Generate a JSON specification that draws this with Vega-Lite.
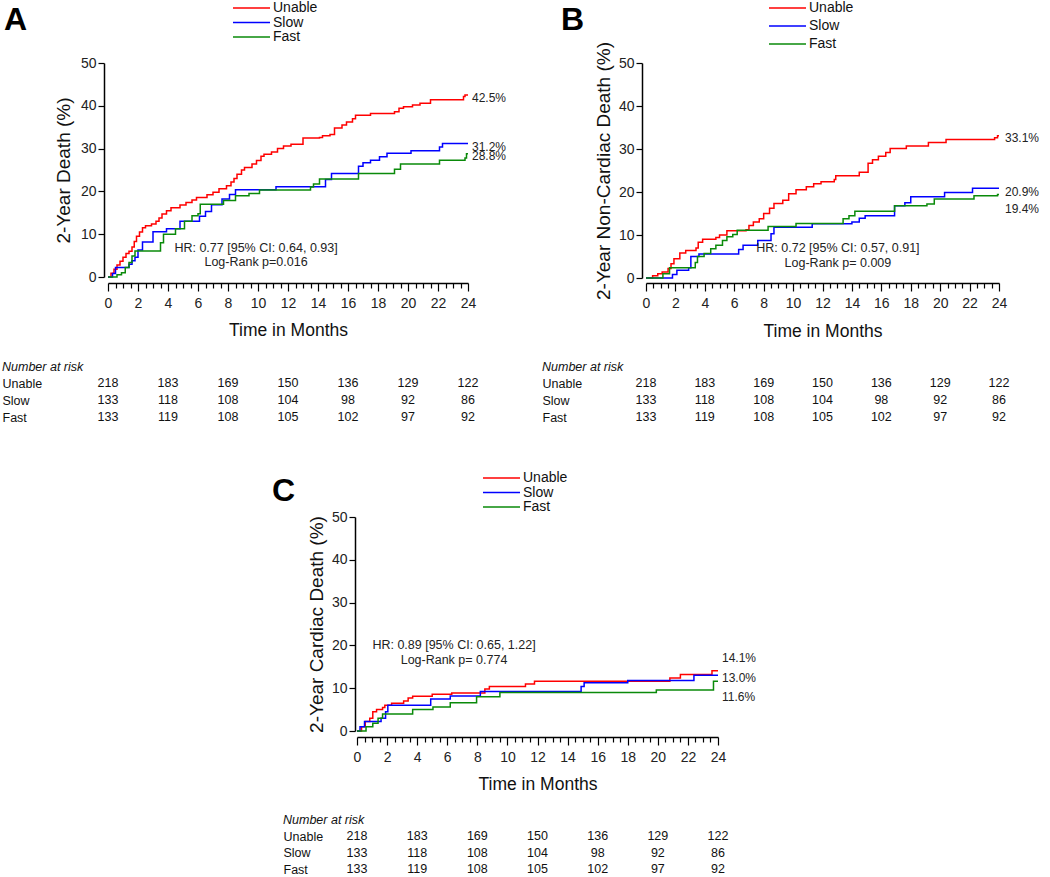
{
  "$schema": "https://vega.github.io/schema/vega-lite/v6.json",
  "padding": {"left": 2, "top": 1, "right": 0, "bottom": 0},
  "background": "white",
  "config": {
    "font": "Liberation Sans",
    "view": {"stroke": null},
    "axis": {"grid": false, "labelFont": "Liberation Sans", "titleFont": "Liberation Sans", "labelColor": "#222", "titleColor": "#111", "titleFontWeight": "normal", "domainColor": "#000", "tickColor": "#000"},
    "legend": {"labelFont": "Liberation Sans"},
    "title": {"font": "Liberation Sans"},
    "text": {"font": "Liberation Sans"}
  },
  "datasets": {
    "curves": [
      {"panel":"A","group":"Unable","month":0,"pct":0},{"panel":"A","group":"Unable","month":0.2,"pct":0.9},{"panel":"A","group":"Unable","month":0.4,"pct":1.8},{"panel":"A","group":"Unable","month":0.6,"pct":2.8},{"panel":"A","group":"Unable","month":0.8,"pct":3.7},{"panel":"A","group":"Unable","month":1.0,"pct":4.6},{"panel":"A","group":"Unable","month":1.2,"pct":5.5},{"panel":"A","group":"Unable","month":1.4,"pct":6.0},{"panel":"A","group":"Unable","month":1.6,"pct":7.0},{"panel":"A","group":"Unable","month":1.75,"pct":8.3},{"panel":"A","group":"Unable","month":1.9,"pct":9.5},{"panel":"A","group":"Unable","month":2.1,"pct":10.5},{"panel":"A","group":"Unable","month":2.3,"pct":11.5},{"panel":"A","group":"Unable","month":2.5,"pct":12.0},{"panel":"A","group":"Unable","month":2.9,"pct":12.4},{"panel":"A","group":"Unable","month":3.2,"pct":13.0},{"panel":"A","group":"Unable","month":3.4,"pct":13.8},{"panel":"A","group":"Unable","month":3.6,"pct":14.7},{"panel":"A","group":"Unable","month":3.9,"pct":15.5},{"panel":"A","group":"Unable","month":4.2,"pct":16.2},{"panel":"A","group":"Unable","month":4.8,"pct":16.8},{"panel":"A","group":"Unable","month":5.2,"pct":17.4},{"panel":"A","group":"Unable","month":5.6,"pct":18.0},{"panel":"A","group":"Unable","month":5.9,"pct":18.6},{"panel":"A","group":"Unable","month":6.6,"pct":19.2},{"panel":"A","group":"Unable","month":7.0,"pct":19.8},{"panel":"A","group":"Unable","month":7.4,"pct":20.6},{"panel":"A","group":"Unable","month":7.9,"pct":21.3},{"panel":"A","group":"Unable","month":8.2,"pct":22.2},{"panel":"A","group":"Unable","month":8.4,"pct":23.0},{"panel":"A","group":"Unable","month":8.6,"pct":24.0},{"panel":"A","group":"Unable","month":8.9,"pct":25.0},{"panel":"A","group":"Unable","month":9.1,"pct":25.6},{"panel":"A","group":"Unable","month":9.6,"pct":26.4},{"panel":"A","group":"Unable","month":9.9,"pct":27.2},{"panel":"A","group":"Unable","month":10.2,"pct":28.2},{"panel":"A","group":"Unable","month":10.4,"pct":28.7},{"panel":"A","group":"Unable","month":10.9,"pct":29.2},{"panel":"A","group":"Unable","month":11.3,"pct":30.0},{"panel":"A","group":"Unable","month":11.7,"pct":30.6},{"panel":"A","group":"Unable","month":12.2,"pct":31.0},{"panel":"A","group":"Unable","month":13.0,"pct":32.5},{"panel":"A","group":"Unable","month":14.1,"pct":32.6},{"panel":"A","group":"Unable","month":14.3,"pct":33.0},{"panel":"A","group":"Unable","month":14.8,"pct":33.3},{"panel":"A","group":"Unable","month":15.1,"pct":34.8},{"panel":"A","group":"Unable","month":15.6,"pct":35.5},{"panel":"A","group":"Unable","month":15.9,"pct":36.2},{"panel":"A","group":"Unable","month":16.3,"pct":37.0},{"panel":"A","group":"Unable","month":16.5,"pct":37.8},{"panel":"A","group":"Unable","month":17.5,"pct":38.2},{"panel":"A","group":"Unable","month":19.1,"pct":38.6},{"panel":"A","group":"Unable","month":19.4,"pct":39.4},{"panel":"A","group":"Unable","month":19.7,"pct":39.8},{"panel":"A","group":"Unable","month":20.3,"pct":40.2},{"panel":"A","group":"Unable","month":20.8,"pct":40.6},{"panel":"A","group":"Unable","month":21.5,"pct":41.4},{"panel":"A","group":"Unable","month":23.7,"pct":42.2},{"panel":"A","group":"Unable","month":23.8,"pct":42.5},{"panel":"A","group":"Unable","month":24.0,"pct":42.5},
      {"panel":"A","group":"Slow","month":0,"pct":0},{"panel":"A","group":"Slow","month":0.3,"pct":0.8},{"panel":"A","group":"Slow","month":0.5,"pct":2.2},{"panel":"A","group":"Slow","month":1.4,"pct":3.0},{"panel":"A","group":"Slow","month":1.6,"pct":3.8},{"panel":"A","group":"Slow","month":1.8,"pct":4.6},{"panel":"A","group":"Slow","month":2.0,"pct":6.3},{"panel":"A","group":"Slow","month":2.3,"pct":8.2},{"panel":"A","group":"Slow","month":3.0,"pct":10.6},{"panel":"A","group":"Slow","month":3.9,"pct":11.3},{"panel":"A","group":"Slow","month":4.8,"pct":13.0},{"panel":"A","group":"Slow","month":6.1,"pct":14.2},{"panel":"A","group":"Slow","month":6.5,"pct":15.3},{"panel":"A","group":"Slow","month":6.9,"pct":16.9},{"panel":"A","group":"Slow","month":7.6,"pct":18.2},{"panel":"A","group":"Slow","month":8.1,"pct":19.3},{"panel":"A","group":"Slow","month":8.5,"pct":20.4},{"panel":"A","group":"Slow","month":11.2,"pct":21.1},{"panel":"A","group":"Slow","month":14.5,"pct":22.8},{"panel":"A","group":"Slow","month":14.9,"pct":24.2},{"panel":"A","group":"Slow","month":16.7,"pct":25.9},{"panel":"A","group":"Slow","month":17.0,"pct":26.7},{"panel":"A","group":"Slow","month":17.5,"pct":27.3},{"panel":"A","group":"Slow","month":18.1,"pct":28.1},{"panel":"A","group":"Slow","month":18.6,"pct":28.9},{"panel":"A","group":"Slow","month":20.2,"pct":29.5},{"panel":"A","group":"Slow","month":22.1,"pct":30.4},{"panel":"A","group":"Slow","month":22.3,"pct":31.2},{"panel":"A","group":"Slow","month":24.0,"pct":31.2},
      {"panel":"A","group":"Fast","month":0,"pct":0},{"panel":"A","group":"Fast","month":0.6,"pct":0.5},{"panel":"A","group":"Fast","month":0.9,"pct":1.0},{"panel":"A","group":"Fast","month":1.15,"pct":2.2},{"panel":"A","group":"Fast","month":1.4,"pct":3.4},{"panel":"A","group":"Fast","month":1.6,"pct":4.9},{"panel":"A","group":"Fast","month":1.8,"pct":6.1},{"panel":"A","group":"Fast","month":3.5,"pct":8.0},{"panel":"A","group":"Fast","month":3.7,"pct":10.0},{"panel":"A","group":"Fast","month":4.5,"pct":11.3},{"panel":"A","group":"Fast","month":5.1,"pct":13.0},{"panel":"A","group":"Fast","month":5.6,"pct":14.3},{"panel":"A","group":"Fast","month":6.0,"pct":14.8},{"panel":"A","group":"Fast","month":6.15,"pct":17.0},{"panel":"A","group":"Fast","month":7.7,"pct":17.9},{"panel":"A","group":"Fast","month":8.5,"pct":19.0},{"panel":"A","group":"Fast","month":9.4,"pct":19.5},{"panel":"A","group":"Fast","month":10.1,"pct":20.3},{"panel":"A","group":"Fast","month":13.5,"pct":21.0},{"panel":"A","group":"Fast","month":13.7,"pct":21.7},{"panel":"A","group":"Fast","month":14.1,"pct":22.9},{"panel":"A","group":"Fast","month":16.7,"pct":24.2},{"panel":"A","group":"Fast","month":19.1,"pct":25.2},{"panel":"A","group":"Fast","month":19.5,"pct":26.4},{"panel":"A","group":"Fast","month":22.1,"pct":27.3},{"panel":"A","group":"Fast","month":23.8,"pct":27.8},{"panel":"A","group":"Fast","month":23.9,"pct":28.8},{"panel":"A","group":"Fast","month":24.0,"pct":28.8},
      {"panel":"B","group":"Unable","month":0,"pct":0},{"panel":"B","group":"Unable","month":0.45,"pct":0.5},{"panel":"B","group":"Unable","month":0.8,"pct":1.0},{"panel":"B","group":"Unable","month":1.1,"pct":1.4},{"panel":"B","group":"Unable","month":1.5,"pct":2.2},{"panel":"B","group":"Unable","month":1.7,"pct":3.3},{"panel":"B","group":"Unable","month":1.9,"pct":4.5},{"panel":"B","group":"Unable","month":2.3,"pct":5.8},{"panel":"B","group":"Unable","month":2.7,"pct":6.4},{"panel":"B","group":"Unable","month":3.4,"pct":7.0},{"panel":"B","group":"Unable","month":3.55,"pct":8.3},{"panel":"B","group":"Unable","month":3.85,"pct":9.0},{"panel":"B","group":"Unable","month":4.75,"pct":9.4},{"panel":"B","group":"Unable","month":5.0,"pct":10.0},{"panel":"B","group":"Unable","month":5.5,"pct":11.0},{"panel":"B","group":"Unable","month":6.8,"pct":11.2},{"panel":"B","group":"Unable","month":7.0,"pct":12.2},{"panel":"B","group":"Unable","month":7.3,"pct":13.0},{"panel":"B","group":"Unable","month":7.7,"pct":13.8},{"panel":"B","group":"Unable","month":8.0,"pct":15.0},{"panel":"B","group":"Unable","month":8.4,"pct":16.2},{"panel":"B","group":"Unable","month":8.7,"pct":17.3},{"panel":"B","group":"Unable","month":9.3,"pct":18.1},{"panel":"B","group":"Unable","month":9.7,"pct":19.6},{"panel":"B","group":"Unable","month":10.2,"pct":20.5},{"panel":"B","group":"Unable","month":10.9,"pct":21.2},{"panel":"B","group":"Unable","month":11.4,"pct":21.9},{"panel":"B","group":"Unable","month":11.9,"pct":22.4},{"panel":"B","group":"Unable","month":12.8,"pct":22.9},{"panel":"B","group":"Unable","month":12.9,"pct":23.8},{"panel":"B","group":"Unable","month":14.5,"pct":24.6},{"panel":"B","group":"Unable","month":15.1,"pct":26.7},{"panel":"B","group":"Unable","month":15.4,"pct":27.5},{"panel":"B","group":"Unable","month":15.8,"pct":28.3},{"panel":"B","group":"Unable","month":16.3,"pct":29.2},{"panel":"B","group":"Unable","month":16.6,"pct":30.1},{"panel":"B","group":"Unable","month":17.7,"pct":30.7},{"panel":"B","group":"Unable","month":19.2,"pct":31.5},{"panel":"B","group":"Unable","month":20.4,"pct":32.2},{"panel":"B","group":"Unable","month":23.7,"pct":32.6},{"panel":"B","group":"Unable","month":23.9,"pct":33.1},{"panel":"B","group":"Unable","month":24.0,"pct":33.1},
      {"panel":"B","group":"Slow","month":0,"pct":0},{"panel":"B","group":"Slow","month":1.7,"pct":0},{"panel":"B","group":"Slow","month":1.8,"pct":0.8},{"panel":"B","group":"Slow","month":2.1,"pct":1.8},{"panel":"B","group":"Slow","month":2.9,"pct":2.4},{"panel":"B","group":"Slow","month":3.05,"pct":5.0},{"panel":"B","group":"Slow","month":3.6,"pct":5.6},{"panel":"B","group":"Slow","month":6.1,"pct":5.6},{"panel":"B","group":"Slow","month":6.3,"pct":6.6},{"panel":"B","group":"Slow","month":6.6,"pct":7.6},{"panel":"B","group":"Slow","month":7.6,"pct":8.7},{"panel":"B","group":"Slow","month":8.5,"pct":10.3},{"panel":"B","group":"Slow","month":8.7,"pct":11.8},{"panel":"B","group":"Slow","month":11.3,"pct":12.6},{"panel":"B","group":"Slow","month":14.0,"pct":13.0},{"panel":"B","group":"Slow","month":14.5,"pct":13.9},{"panel":"B","group":"Slow","month":14.9,"pct":14.5},{"panel":"B","group":"Slow","month":16.9,"pct":16.8},{"panel":"B","group":"Slow","month":17.6,"pct":17.5},{"panel":"B","group":"Slow","month":18.0,"pct":18.9},{"panel":"B","group":"Slow","month":20.3,"pct":19.9},{"panel":"B","group":"Slow","month":22.2,"pct":20.9},{"panel":"B","group":"Slow","month":24.0,"pct":20.9},
      {"panel":"B","group":"Fast","month":0,"pct":0},{"panel":"B","group":"Fast","month":1.1,"pct":0},{"panel":"B","group":"Fast","month":1.15,"pct":1.0},{"panel":"B","group":"Fast","month":1.6,"pct":2.4},{"panel":"B","group":"Fast","month":3.35,"pct":3.6},{"panel":"B","group":"Fast","month":3.5,"pct":5.0},{"panel":"B","group":"Fast","month":3.95,"pct":5.7},{"panel":"B","group":"Fast","month":4.4,"pct":6.8},{"panel":"B","group":"Fast","month":4.75,"pct":7.6},{"panel":"B","group":"Fast","month":5.2,"pct":8.7},{"panel":"B","group":"Fast","month":5.5,"pct":9.6},{"panel":"B","group":"Fast","month":5.9,"pct":10.1},{"panel":"B","group":"Fast","month":6.2,"pct":11.1},{"panel":"B","group":"Fast","month":8.3,"pct":12.0},{"panel":"B","group":"Fast","month":10.2,"pct":12.7},{"panel":"B","group":"Fast","month":13.4,"pct":13.8},{"panel":"B","group":"Fast","month":13.8,"pct":14.5},{"panel":"B","group":"Fast","month":14.2,"pct":15.5},{"panel":"B","group":"Fast","month":16.9,"pct":16.8},{"panel":"B","group":"Fast","month":19.1,"pct":17.2},{"panel":"B","group":"Fast","month":19.6,"pct":18.4},{"panel":"B","group":"Fast","month":22.3,"pct":19.1},{"panel":"B","group":"Fast","month":23.9,"pct":19.4},{"panel":"B","group":"Fast","month":24.0,"pct":19.4},
      {"panel":"C","group":"Unable","month":0,"pct":0},{"panel":"C","group":"Unable","month":0.3,"pct":1.0},{"panel":"C","group":"Unable","month":0.55,"pct":2.2},{"panel":"C","group":"Unable","month":0.85,"pct":3.0},{"panel":"C","group":"Unable","month":1.05,"pct":4.5},{"panel":"C","group":"Unable","month":1.3,"pct":5.0},{"panel":"C","group":"Unable","month":1.7,"pct":5.5},{"panel":"C","group":"Unable","month":1.85,"pct":6.0},{"panel":"C","group":"Unable","month":2.3,"pct":6.5},{"panel":"C","group":"Unable","month":3.1,"pct":7.0},{"panel":"C","group":"Unable","month":3.4,"pct":7.7},{"panel":"C","group":"Unable","month":3.7,"pct":8.1},{"panel":"C","group":"Unable","month":5.0,"pct":8.6},{"panel":"C","group":"Unable","month":6.3,"pct":8.9},{"panel":"C","group":"Unable","month":8.5,"pct":9.8},{"panel":"C","group":"Unable","month":8.8,"pct":10.4},{"panel":"C","group":"Unable","month":11.2,"pct":11.0},{"panel":"C","group":"Unable","month":11.8,"pct":11.6},{"panel":"C","group":"Unable","month":20.8,"pct":12.4},{"panel":"C","group":"Unable","month":21.5,"pct":13.2},{"panel":"C","group":"Unable","month":23.6,"pct":14.1},{"panel":"C","group":"Unable","month":24.0,"pct":14.1},
      {"panel":"C","group":"Slow","month":0,"pct":0},{"panel":"C","group":"Slow","month":0.2,"pct":1.0},{"panel":"C","group":"Slow","month":0.5,"pct":2.2},{"panel":"C","group":"Slow","month":1.6,"pct":3.0},{"panel":"C","group":"Slow","month":1.9,"pct":4.5},{"panel":"C","group":"Slow","month":2.05,"pct":6.0},{"panel":"C","group":"Slow","month":4.9,"pct":7.5},{"panel":"C","group":"Slow","month":6.2,"pct":8.2},{"panel":"C","group":"Slow","month":8.2,"pct":9.2},{"panel":"C","group":"Slow","month":14.9,"pct":10.4},{"panel":"C","group":"Slow","month":15.1,"pct":11.3},{"panel":"C","group":"Slow","month":18.0,"pct":11.8},{"panel":"C","group":"Slow","month":22.4,"pct":13.0},{"panel":"C","group":"Slow","month":24.0,"pct":13.0},
      {"panel":"C","group":"Fast","month":0,"pct":0},{"panel":"C","group":"Fast","month":0.6,"pct":1.0},{"panel":"C","group":"Fast","month":1.05,"pct":1.8},{"panel":"C","group":"Fast","month":1.4,"pct":3.0},{"panel":"C","group":"Fast","month":1.7,"pct":4.0},{"panel":"C","group":"Fast","month":3.7,"pct":5.0},{"panel":"C","group":"Fast","month":5.05,"pct":5.6},{"panel":"C","group":"Fast","month":6.2,"pct":6.6},{"panel":"C","group":"Fast","month":7.95,"pct":8.0},{"panel":"C","group":"Fast","month":9.5,"pct":9.0},{"panel":"C","group":"Fast","month":19.9,"pct":9.6},{"panel":"C","group":"Fast","month":23.7,"pct":11.6},{"panel":"C","group":"Fast","month":24.0,"pct":11.6}
    ],
    "endlabels": [
      {"panel":"A","group":"Unable","month":24,"pct":41.8,"label":"42.5%"},
      {"panel":"A","group":"Slow","month":24,"pct":30.4,"label":"31.2%"},
      {"panel":"A","group":"Fast","month":24,"pct":28.3,"label":"28.8%"},
      {"panel":"B","group":"Unable","month":24,"pct":32.6,"label":"33.1%"},
      {"panel":"B","group":"Slow","month":24,"pct":20.0,"label":"20.9%"},
      {"panel":"B","group":"Fast","month":24,"pct":16.0,"label":"19.4%"},
      {"panel":"C","group":"Unable","month":24,"pct":17.1,"label":"14.1%"},
      {"panel":"C","group":"Slow","month":24,"pct":12.4,"label":"13.0%"},
      {"panel":"C","group":"Fast","month":24,"pct":7.9,"label":"11.6%"}
    ],
    "notes": [
      {"panel":"A","month":9.87,"pct":6.8,"note":"HR: 0.77 [95% CI: 0.64, 0.93]"},
      {"panel":"A","month":9.87,"pct":3.4,"note":"Log-Rank p=0.016"},
      {"panel":"B","month":13.05,"pct":7.0,"note":"HR: 0.72 [95% CI: 0.57, 0.91]"},
      {"panel":"B","month":13.05,"pct":3.5,"note":"Log-Rank p= 0.009"},
      {"panel":"C","month":6.45,"pct":20.2,"note":"HR: 0.89 [95% CI: 0.65, 1.22]"},
      {"panel":"C","month":6.45,"pct":16.7,"note":"Log-Rank p= 0.774"}
    ],
    "risk": [
      {"panel":"A","group":"Unable","month":0,"n":218},{"panel":"A","group":"Unable","month":4,"n":183},{"panel":"A","group":"Unable","month":8,"n":169},{"panel":"A","group":"Unable","month":12,"n":150},{"panel":"A","group":"Unable","month":16,"n":136},{"panel":"A","group":"Unable","month":20,"n":129},{"panel":"A","group":"Unable","month":24,"n":122},
      {"panel":"A","group":"Slow","month":0,"n":133},{"panel":"A","group":"Slow","month":4,"n":118},{"panel":"A","group":"Slow","month":8,"n":108},{"panel":"A","group":"Slow","month":12,"n":104},{"panel":"A","group":"Slow","month":16,"n":98},{"panel":"A","group":"Slow","month":20,"n":92},{"panel":"A","group":"Slow","month":24,"n":86},
      {"panel":"A","group":"Fast","month":0,"n":133},{"panel":"A","group":"Fast","month":4,"n":119},{"panel":"A","group":"Fast","month":8,"n":108},{"panel":"A","group":"Fast","month":12,"n":105},{"panel":"A","group":"Fast","month":16,"n":102},{"panel":"A","group":"Fast","month":20,"n":97},{"panel":"A","group":"Fast","month":24,"n":92},
      {"panel":"B","group":"Unable","month":0,"n":218},{"panel":"B","group":"Unable","month":4,"n":183},{"panel":"B","group":"Unable","month":8,"n":169},{"panel":"B","group":"Unable","month":12,"n":150},{"panel":"B","group":"Unable","month":16,"n":136},{"panel":"B","group":"Unable","month":20,"n":129},{"panel":"B","group":"Unable","month":24,"n":122},
      {"panel":"B","group":"Slow","month":0,"n":133},{"panel":"B","group":"Slow","month":4,"n":118},{"panel":"B","group":"Slow","month":8,"n":108},{"panel":"B","group":"Slow","month":12,"n":104},{"panel":"B","group":"Slow","month":16,"n":98},{"panel":"B","group":"Slow","month":20,"n":92},{"panel":"B","group":"Slow","month":24,"n":86},
      {"panel":"B","group":"Fast","month":0,"n":133},{"panel":"B","group":"Fast","month":4,"n":119},{"panel":"B","group":"Fast","month":8,"n":108},{"panel":"B","group":"Fast","month":12,"n":105},{"panel":"B","group":"Fast","month":16,"n":102},{"panel":"B","group":"Fast","month":20,"n":97},{"panel":"B","group":"Fast","month":24,"n":92},
      {"panel":"C","group":"Unable","month":0,"n":218},{"panel":"C","group":"Unable","month":4,"n":183},{"panel":"C","group":"Unable","month":8,"n":169},{"panel":"C","group":"Unable","month":12,"n":150},{"panel":"C","group":"Unable","month":16,"n":136},{"panel":"C","group":"Unable","month":20,"n":129},{"panel":"C","group":"Unable","month":24,"n":122},
      {"panel":"C","group":"Slow","month":0,"n":133},{"panel":"C","group":"Slow","month":4,"n":118},{"panel":"C","group":"Slow","month":8,"n":108},{"panel":"C","group":"Slow","month":12,"n":104},{"panel":"C","group":"Slow","month":16,"n":98},{"panel":"C","group":"Slow","month":20,"n":92},{"panel":"C","group":"Slow","month":24,"n":86},
      {"panel":"C","group":"Fast","month":0,"n":133},{"panel":"C","group":"Fast","month":4,"n":119},{"panel":"C","group":"Fast","month":8,"n":108},{"panel":"C","group":"Fast","month":12,"n":105},{"panel":"C","group":"Fast","month":16,"n":102},{"panel":"C","group":"Fast","month":20,"n":97},{"panel":"C","group":"Fast","month":24,"n":92}
    ]
  },
  "vconcat": [
    {
      "hconcat": [
        {
          "vconcat": [
            {
              "width": 360, "height": 214,
              "title": {"text": "A", "anchor": "start", "frame": "group", "fontSize": 32, "fontWeight": "bold", "color": "#000", "dx": -104, "dy": 61, "offset": 0, "baseline": "alphabetic"},
              "encoding": {
                "x": {"field": "month", "type": "quantitative", "scale": {"domain": [0, 24], "nice": false},
                  "axis": {"values": [0,0.5,1,1.5,2,2.5,3,3.5,4,4.5,5,5.5,6,6.5,7,7.5,8,8.5,9,9.5,10,10.5,11,11.5,12,12.5,13,13.5,14,14.5,15,15.5,16,16.5,17,17.5,18,18.5,19,19.5,20,20.5,21,21.5,22,22.5,23,23.5,24],
                    "labelExpr": "datum.value % 2 === 0 ? format(datum.value, 'd') : ''", "labelOverlap": false, "labelFlush": false,
                    "tickSize": {"condition": {"test": "datum.value % 2 === 0", "value": 8}, "value": 5},
                    "offset": 6, "domainWidth": 1.5, "tickWidth": 1.2, "labelFontSize": 14, "labelPadding": 5,
                    "title": "Time in Months", "titleFontSize": 17.5, "titlePadding": 11}},
                "y": {"field": "pct", "type": "quantitative", "scale": {"domain": [0, 50], "nice": false},
                  "axis": {"values": [0,10,20,30,40,50], "offset": 4, "tickSize": 6, "tickWidth": 1.2, "domainWidth": 1.5, "labelFontSize": 14, "labelPadding": 2,
                    "title": "2-Year Death (%)", "titleFontSize": 19, "titlePadding": 7}}
              },
              "layer": [
                {
                  "data": {"name": "curves"},
                  "transform": [{"filter": "datum.panel === 'A'"}],
                  "mark": {"type": "line", "interpolate": "step-after", "strokeWidth": 1.5},
                  "encoding": {
                    "color": {"field": "group", "type": "nominal", "scale": {"domain": ["Unable", "Slow", "Fast"], "range": ["#ff0000", "#0000ff", "#0a8a0a"]},
                      "legend": {"orient": "none", "legendX": 125, "legendY": -62, "title": null, "symbolType": "M-4,0H4", "symbolSize": 85.6, "symbolOffset": 11.5, "symbolStrokeWidth": 1.5, "labelFontSize": 14, "labelOffset": 14.5, "labelColor": "#111", "rowPadding": 0.5}}
                  }
                },
                {
                  "data": {"name": "endlabels"},
                  "transform": [{"filter": "datum.panel === 'A'"}],
                  "mark": {"type": "text", "align": "left", "dx": 4, "fontSize": 12, "color": "#222"},
                  "encoding": {"text": {"field": "label"}}
                },
                {
                  "data": {"name": "notes"},
                  "transform": [{"filter": "datum.panel === 'A'"}],
                  "mark": {"type": "text", "align": "center", "fontSize": 12.5, "color": "#222"},
                  "encoding": {"text": {"field": "note"}}
                }
              ]
            },
            {
              "width": 360, "height": 34,
              "data": {"name": "risk"},
              "transform": [{"filter": "datum.panel === 'A'"}],
              "title": {"text": "Number at risk", "anchor": "start", "frame": "bounds", "fontStyle": "italic", "fontSize": 12.5, "fontWeight": "normal", "color": "#111", "offset": 4},
              "mark": {"type": "text", "fontSize": 12.5, "color": "#111"},
              "encoding": {
                "x": {"field": "month", "type": "quantitative", "scale": {"domain": [0, 24], "nice": false}, "axis": null},
                "y": {"field": "group", "type": "nominal", "sort": ["Unable", "Slow", "Fast"], "scale": {"type": "point", "padding": 0},
                  "axis": {"title": null, "domain": false, "ticks": false, "labelAlign": "left", "labelPadding": 106, "labelFontSize": 12.5, "labelColor": "#111"}},
                "text": {"field": "n", "type": "quantitative"}
              }
            }
          ],
          "spacing": 106, "bounds": "flush",
          "resolve": {"scale": {"color": "independent"}, "legend": {"color": "independent"}}
        },
        {
          "vconcat": [
            {
              "width": 353, "height": 215,
              "title": {"text": "B", "anchor": "start", "frame": "group", "fontSize": 32, "fontWeight": "bold", "color": "#000", "dx": -85, "dy": 61, "offset": 0, "baseline": "alphabetic"},
              "encoding": {
                "x": {"field": "month", "type": "quantitative", "scale": {"domain": [0, 24], "nice": false},
                  "axis": {"values": [0,0.5,1,1.5,2,2.5,3,3.5,4,4.5,5,5.5,6,6.5,7,7.5,8,8.5,9,9.5,10,10.5,11,11.5,12,12.5,13,13.5,14,14.5,15,15.5,16,16.5,17,17.5,18,18.5,19,19.5,20,20.5,21,21.5,22,22.5,23,23.5,24],
                    "labelExpr": "datum.value % 2 === 0 ? format(datum.value, 'd') : ''", "labelOverlap": false, "labelFlush": false,
                    "tickSize": {"condition": {"test": "datum.value % 2 === 0", "value": 8}, "value": 5},
                    "offset": 5, "domainWidth": 1.5, "tickWidth": 1.2, "labelFontSize": 14, "labelPadding": 5,
                    "title": "Time in Months", "titleFontSize": 17.5, "titlePadding": 12}},
                "y": {"field": "pct", "type": "quantitative", "scale": {"domain": [0, 50], "nice": false},
                  "axis": {"values": [0,10,20,30,40,50], "offset": 4, "tickSize": 6, "tickWidth": 1.2, "domainWidth": 1.5, "labelFontSize": 14, "labelPadding": 2,
                    "title": "2-Year Non-Cardiac Death (%)", "titleFontSize": 19, "titlePadding": 5}}
              },
              "layer": [
                {
                  "data": {"name": "curves"},
                  "transform": [{"filter": "datum.panel === 'B'"}],
                  "mark": {"type": "line", "interpolate": "step-after", "strokeWidth": 1.5},
                  "encoding": {
                    "color": {"field": "group", "type": "nominal", "scale": {"domain": ["Unable", "Slow", "Fast"], "range": ["#ff0000", "#0000ff", "#0a8a0a"]},
                      "legend": {"orient": "none", "legendX": 123, "legendY": -62, "title": null, "symbolType": "M-4,0H4", "symbolSize": 85.6, "symbolOffset": 11.5, "symbolStrokeWidth": 1.5, "labelFontSize": 14, "labelOffset": 14.5, "labelColor": "#111", "rowPadding": 4}}
                  }
                },
                {
                  "data": {"name": "endlabels"},
                  "transform": [{"filter": "datum.panel === 'B'"}],
                  "mark": {"type": "text", "align": "left", "dx": 6, "fontSize": 12, "color": "#222"},
                  "encoding": {"text": {"field": "label"}}
                },
                {
                  "data": {"name": "notes"},
                  "transform": [{"filter": "datum.panel === 'B'"}],
                  "mark": {"type": "text", "align": "center", "fontSize": 12.5, "color": "#222"},
                  "encoding": {"text": {"field": "note"}}
                }
              ]
            },
            {
              "width": 353, "height": 34,
              "data": {"name": "risk"},
              "transform": [{"filter": "datum.panel === 'B'"}],
              "title": {"text": "Number at risk", "anchor": "start", "frame": "bounds", "fontStyle": "italic", "fontSize": 12.5, "fontWeight": "normal", "color": "#111", "offset": 4},
              "mark": {"type": "text", "fontSize": 12.5, "color": "#111"},
              "encoding": {
                "x": {"field": "month", "type": "quantitative", "scale": {"domain": [0, 24], "nice": false}, "axis": null},
                "y": {"field": "group", "type": "nominal", "sort": ["Unable", "Slow", "Fast"], "scale": {"type": "point", "padding": 0},
                  "axis": {"title": null, "domain": false, "ticks": false, "labelAlign": "left", "labelPadding": 104, "labelFontSize": 12.5, "labelColor": "#111"}},
                "text": {"field": "n", "type": "quantitative"}
              }
            }
          ],
          "spacing": 105, "bounds": "flush",
          "resolve": {"scale": {"color": "independent"}, "legend": {"color": "independent"}}
        }
      ],
      "spacing": 35,
      "resolve": {"scale": {"color": "independent"}, "legend": {"color": "independent"}}
    },
    {
      "hconcat": [
        {"width": 164, "height": 5, "data": {"values": []}, "mark": {"type": "point"}, "view": {"fill": "white", "stroke": null}},
        {
          "vconcat": [
            {
              "width": 361, "height": 214,
              "title": {"text": "C", "anchor": "start", "frame": "group", "fontSize": 32, "fontWeight": "bold", "color": "#000", "dx": -85, "dy": 62, "offset": 0, "baseline": "alphabetic"},
              "encoding": {
                "x": {"field": "month", "type": "quantitative", "scale": {"domain": [0, 24], "nice": false},
                  "axis": {"values": [0,0.5,1,1.5,2,2.5,3,3.5,4,4.5,5,5.5,6,6.5,7,7.5,8,8.5,9,9.5,10,10.5,11,11.5,12,12.5,13,13.5,14,14.5,15,15.5,16,16.5,17,17.5,18,18.5,19,19.5,20,20.5,21,21.5,22,22.5,23,23.5,24],
                    "labelExpr": "datum.value % 2 === 0 ? format(datum.value, 'd') : ''", "labelOverlap": false, "labelFlush": false,
                    "tickSize": {"condition": {"test": "datum.value % 2 === 0", "value": 8}, "value": 5},
                    "offset": 6, "domainWidth": 1.5, "tickWidth": 1.2, "labelFontSize": 14, "labelPadding": 5,
                    "title": "Time in Months", "titleFontSize": 17.5, "titlePadding": 11}},
                "y": {"field": "pct", "type": "quantitative", "scale": {"domain": [0, 50], "nice": false},
                  "axis": {"values": [0,10,20,30,40,50], "offset": 2, "tickSize": 6, "tickWidth": 1.2, "domainWidth": 1.5, "labelFontSize": 14, "labelPadding": 2,
                    "title": "2-Year Cardiac Death (%)", "titleFontSize": 19, "titlePadding": 5}}
              },
              "layer": [
                {
                  "data": {"name": "curves"},
                  "transform": [{"filter": "datum.panel === 'C'"}],
                  "mark": {"type": "line", "interpolate": "step-after", "strokeWidth": 1.5},
                  "encoding": {
                    "color": {"field": "group", "type": "nominal", "scale": {"domain": ["Unable", "Slow", "Fast"], "range": ["#ff0000", "#0000ff", "#0a8a0a"]},
                      "legend": {"orient": "none", "legendX": 126, "legendY": -46, "title": null, "symbolType": "M-4,0H4", "symbolSize": 85.6, "symbolOffset": 11.5, "symbolStrokeWidth": 1.5, "labelFontSize": 14, "labelOffset": 14.5, "labelColor": "#111", "rowPadding": 0.5}}
                  }
                },
                {
                  "data": {"name": "endlabels"},
                  "transform": [{"filter": "datum.panel === 'C'"}],
                  "mark": {"type": "text", "align": "left", "dx": 4, "fontSize": 12, "color": "#222"},
                  "encoding": {"text": {"field": "label"}}
                },
                {
                  "data": {"name": "notes"},
                  "transform": [{"filter": "datum.panel === 'C'"}],
                  "mark": {"type": "text", "align": "center", "fontSize": 12.5, "color": "#222"},
                  "encoding": {"text": {"field": "note"}}
                }
              ]
            },
            {
              "width": 361, "height": 33,
              "data": {"name": "risk"},
              "transform": [{"filter": "datum.panel === 'C'"}],
              "title": {"text": "Number at risk", "anchor": "start", "frame": "bounds", "fontStyle": "italic", "fontSize": 12.5, "fontWeight": "normal", "color": "#111", "offset": 4},
              "mark": {"type": "text", "fontSize": 12.5, "color": "#111"},
              "encoding": {
                "x": {"field": "month", "type": "quantitative", "scale": {"domain": [0, 24], "nice": false}, "axis": null},
                "y": {"field": "group", "type": "nominal", "sort": ["Unable", "Slow", "Fast"], "scale": {"type": "point", "padding": 0},
                  "axis": {"title": null, "domain": false, "ticks": false, "labelAlign": "left", "labelPadding": 74, "labelFontSize": 12.5, "labelColor": "#111"}},
                "text": {"field": "n", "type": "quantitative"}
              }
            }
          ],
          "spacing": 105, "bounds": "flush",
          "resolve": {"scale": {"color": "independent"}, "legend": {"color": "independent"}}
        }
      ],
      "spacing": 0,
      "resolve": {"scale": {"color": "independent"}, "legend": {"color": "independent"}}
    }
  ],
  "spacing": 47,
  "resolve": {"scale": {"color": "independent"}, "legend": {"color": "independent"}}
}
